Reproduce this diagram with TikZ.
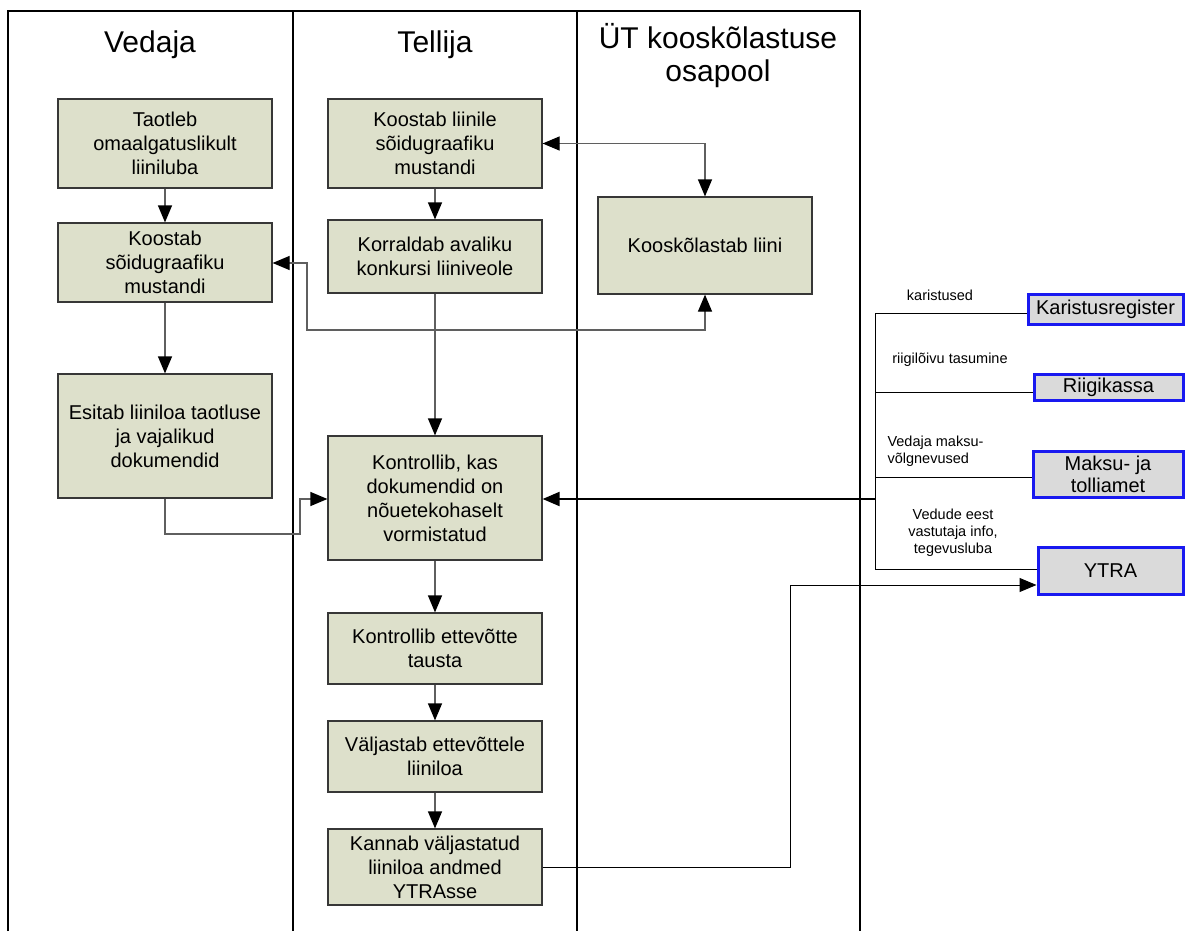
\documentclass[tikz,border=0pt]{standalone}
\usepackage{fontspec}
\setmainfont{Liberation Sans}
\usetikzlibrary{arrows.meta}
\definecolor{boxfill}{RGB}{221,224,203}
\definecolor{boxline}{RGB}{55,55,55}
\definecolor{wirecol}{RGB}{95,95,95}
\definecolor{extfill}{RGB}{218,218,218}
\definecolor{extline}{RGB}{25,25,240}
\begin{document}
\begin{tikzpicture}[x=1pt,y=-1pt,
  lane/.style={line width=2pt,black},
  stepbox/.style={draw=boxline,fill=boxfill,line width=1.2pt,inner sep=0pt,
    align=center,minimum width=214pt,font=\fontsize{20}{24}\selectfont},
  extbox/.style={draw=extline,fill=extfill,line width=3pt,inner sep=0pt,
    align=center,font=\fontsize{20}{22}\selectfont},
  wire/.style={draw=wirecol,line width=1.2pt},
  feed/.style={draw=black,line width=1pt},
  tip/.tip={Triangle[length=17pt,width=14pt,color=black]},
  flow/.style={wire,-tip},
  twoway/.style={wire,tip-tip},
  lanehead/.style={font=\fontsize{30}{33}\selectfont,align=center},
  note/.style={font=\fontsize{14.5}{17}\selectfont,align=center}
]
\useasboundingbox (0,0) rectangle (1185,931);

% swimlanes
\draw[lane] (8,931) -- (8,11) -- (860,11) -- (860,931);
\draw[lane] (293,11) -- (293,931);
\draw[lane] (577,11) -- (577,931);
\node[lanehead,anchor=base] (hV) at (150,53) {Vedaja};
\node[lanehead,anchor=base] (hT) at (435,53) {Tellija};
\node[lanehead] (hU) at (718,56) {ÜT kooskõlastuse\\osapool};

% process steps
\node[stepbox,minimum height=89pt]  (taot)  at (165,143.5) {Taotleb\\omaalgatuslikult\\liiniluba};
\node[stepbox,minimum height=79pt]  (koosV) at (165,262.5) {Koostab\\sõidugraafiku\\mustandi};
\node[stepbox,minimum height=124pt] (esit)  at (165,436)   {Esitab liiniloa taotluse\\ja vajalikud\\dokumendid};
\node[stepbox,minimum height=89pt]  (koosT) at (435,143.5) {Koostab liinile\\sõidugraafiku\\mustandi};
\node[stepbox,minimum height=73pt]  (korr)  at (435,256.5) {Korraldab avaliku\\konkursi liiniveole};
\node[stepbox,minimum height=97pt]  (kook)  at (705,245.5) {Kooskõlastab liini};
\node[stepbox,minimum height=124pt] (kontr) at (435,498)   {Kontrollib, kas\\dokumendid on\\nõuetekohaselt\\vormistatud};
\node[stepbox,minimum height=71pt]  (taust) at (435,648.5) {Kontrollib ettevõtte\\tausta};
\node[stepbox,minimum height=71pt]  (valj)  at (435,756.5) {Väljastab ettevõttele\\liiniloa};
\node[stepbox,minimum height=76pt]  (kann)  at (435,867)   {Kannab väljastatud\\liiniloa andmed\\YTRAsse};

% external registers
\node[extbox,minimum width=155pt,minimum height=30pt] (kreg) at (1105.5,309) {Karistusregister};
\node[extbox,minimum width=149pt,minimum height=26pt] (rkas) at (1108.5,387) {Riigikassa};
\node[extbox,minimum width=150pt,minimum height=46pt] (mta)  at (1108,474)   {Maksu- ja\\tolliamet};
\node[extbox,minimum width=145pt,minimum height=47pt] (ytra) at (1110.5,570.5) {YTRA};

% flows inside the lanes
\draw[flow] (taot) -- (koosV);
\draw[flow] (koosV) -- (esit);
\draw[flow] (koosT) -- (korr);
\draw[flow] (korr) -- (kontr);
\draw[flow] (kontr) -- (taust);
\draw[flow] (taust) -- (valj);
\draw[flow] (valj) -- (kann);
\draw[twoway] (koosT.east) -| (kook.north);
\coordinate (c2) at (307,330);
\coordinate (c3) at (307,263);
\draw[twoway] (c3 -| koosV.east) -- (c3) -- (c2) -| (kook.south);
\coordinate (e1) at (300,534);
\coordinate (e2) at (300,499);
\draw[flow] (esit.south) |- (e1) -- (e2) -- (e2 -| kontr.west);

% data from the registers
\coordinate (t1) at (875,313);
\coordinate (t2) at (875,392);
\coordinate (t3) at (875,477);
\coordinate (t4) at (875,569);
\coordinate (t0) at (875,499);
\draw[feed] (t1) -- (t4);
\draw[feed] (t1) -- (t1 -| kreg.west);
\draw[feed] (t2) -- (t2 -| rkas.west);
\draw[feed] (t3) -- (t3 -| mta.west);
\draw[feed] (t4) -- (t4 -| ytra.west);
\draw[line width=2pt,-tip] (t0) -- (t0 -| kontr.east);
\node[note] (n1) at (940,295) {karistused};
\node[note] (n2) at (950,360) {riigilõivu tasumine};
\node[note,align=left,anchor=west] (n3) at (884,451) {Vedaja maksu-\\võlgnevused};
\node[note] (n4) at (953,533) {Vedude eest\\vastutaja info,\\tegevusluba};

% entry into YTRA
\coordinate (k1) at (790,585);
\draw[feed,-tip] (kann.east) -| (k1) -- (k1 -| ytra.west);
\end{tikzpicture}
\end{document}
